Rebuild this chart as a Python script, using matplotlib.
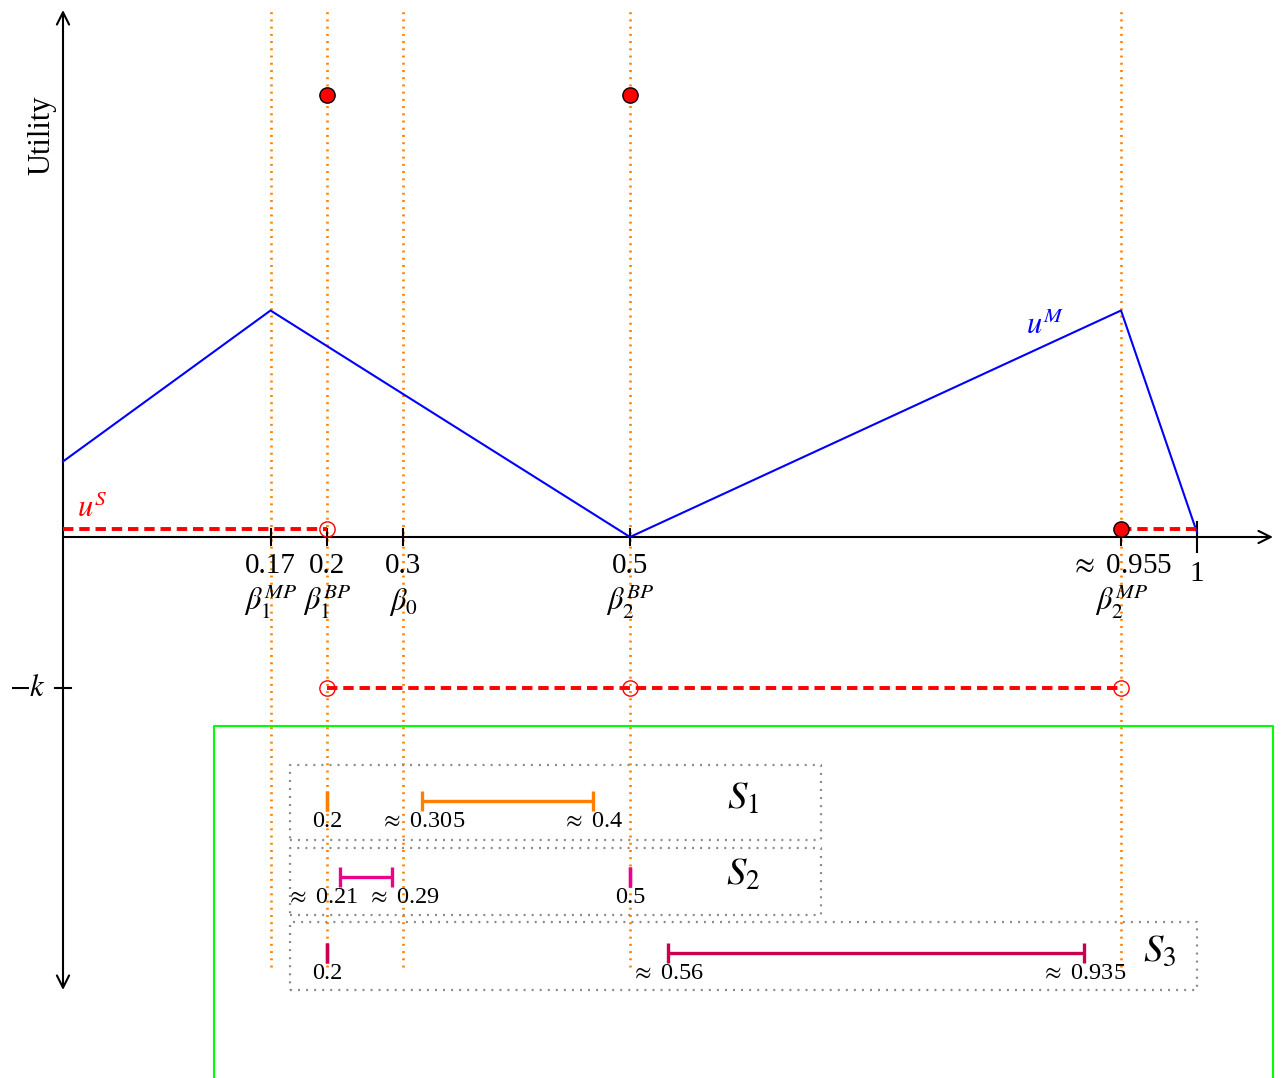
import matplotlib.pyplot as plt

plt.rcParams['font.family'] = 'serif'
plt.rcParams['font.serif'] = ['Liberation Serif', 'DejaVu Serif']
plt.rcParams['mathtext.fontset'] = 'stix'
plt.rcParams['lines.scale_dashes'] = False

# schematic positions on the belief axis (drawing is not to scale)
beta_pos = [0.183, 0.233, 0.300, 0.500, 0.933, 1.0]
tick_text = ['0.17', '0.2', '0.3', '0.5', r'$\approx$ 0.955', '1']
beta_text = [r'$\beta_1^{MP}$', r'$\beta_1^{BP}$', r'$\beta_0$', r'$\beta_2^{BP}$', r'$\beta_2^{MP}$', '']

# utility curves
uM_x = [0.0, 0.183, 0.500, 0.933, 1.0]
uM_y = [0.50, 1.50, 0.0, 1.50, 0.03]
uS = 0.05
k = 1.0
top = 2.93

# sets S1..S3: single points and intervals (schematic positions + labels)
set_names = [r'$S_1$', r'$S_2$', r'$S_3$']
set_points = [[0.233], [0.500], [0.233]]
point_labels = [['0.2'], ['0.5'], ['0.2']]
set_ranges = [(0.317, 0.467), (0.244, 0.290), (0.5335, 0.900)]
range_labels = [(r'$\approx$ 0.305', r'$\approx$ 0.4'),
                (r'$\approx$ 0.21', r'$\approx$ 0.29'),
                (r'$\approx$ 0.56', r'$\approx$ 0.935')]
label_shift = [(0, 0), (-0.015, 0.010), (0, 0)]
set_colors = ['#ff8000', '#ec008c', '#c8004e']
row_y = [-1.748, -2.252, -2.755]
box_y = [(-2.007, -1.510), (-2.503, -2.060), (-3.0, -2.550)]
box_right = [0.668, 0.668, 1.0]
name_x = [0.600, 0.600, 0.967]

orange = '#ff8000'
red = '#ff0000'

fig = plt.figure(figsize=(12.82, 10.78), dpi=100)
ax = fig.add_axes([0, 0, 1, 1])
ax.axis('off')
ax.set_xlim(-63 / 1134, (1282 - 63) / 1134)
ax.set_ylim((537 - 1078) / 151, 537 / 151)

# axes with arrows
ax.annotate('', xy=(1.067, 0), xytext=(0, 0),
            arrowprops=dict(arrowstyle='->', lw=1.5, color='black', mutation_scale=22, shrinkA=0, shrinkB=0))
ax.annotate('', xy=(0, 3.49), xytext=(0, -3.0),
            arrowprops=dict(arrowstyle='<->', lw=1.5, color='black', mutation_scale=22, shrinkA=0, shrinkB=0))
ax.text(-0.0185, 2.66, 'Utility', rotation=90, ha='center', va='center', fontsize=22)
ax.plot([-0.007, 0.007], [-k, -k], color='black', lw=1.5)
ax.text(-0.031, -k, r'$-k$', ha='center', va='center', fontsize=22)

# orange guide lines
ax.vlines(beta_pos[:5], -2.848, 3.503, colors=orange, linestyles=(0, (1.4, 3.8)), lw=1.9, zorder=1)

# x ticks and labels
for i, b in enumerate(beta_pos):
    h = 0.1 if i == 5 else 0.053
    ax.plot([b, b], [-h, h], color='black', lw=1.5, zorder=3)
    ty = -0.245 if i == 5 else -0.195
    ax.text(b, ty, tick_text[i], ha='center', va='center', fontsize=21)
    ax.text(b, -0.43, beta_text[i], ha='center', va='center', fontsize=22)

# utility of the manipulator
ax.plot(uM_x, uM_y, color='#0000ff', lw=1.5, zorder=4)
ax.text(0.866, 1.40, r'$u^M$', color='#0000ff', ha='center', va='center', fontsize=22)

# utility of the sender (dashed red)
dash = (0, (7.5, 4.2))
ax.plot([0, beta_pos[1]], [uS, uS], color=red, lw=2.8, linestyle=dash, zorder=4)
ax.plot([beta_pos[4], beta_pos[5]], [uS, uS], color=red, lw=2.8, linestyle=dash, zorder=4)
ax.plot([beta_pos[1], beta_pos[4]], [-k, -k], color=red, lw=2.8, linestyle=dash, zorder=4)
ax.text(0.0256, 0.185, r'$u^S$', color=red, ha='center', va='center', fontsize=22)

ax.plot([beta_pos[1], beta_pos[3]], [top, top], 'o', color=red, mec='black', mew=1, ms=11, zorder=5)
ax.plot([beta_pos[4]], [uS], 'o', color=red, mec='black', mew=1, ms=11, zorder=5)
ax.plot([beta_pos[1]], [uS], 'o', mfc='none', mec=red, mew=1, ms=11, zorder=5)
ax.plot([beta_pos[1], beta_pos[3], beta_pos[4]], [-k, -k, -k], 'o', mfc='none', mec=red, mew=1, ms=11, zorder=5)

# green frame
ax.plot([0.1332, 0.1332, 1.067, 1.067], [-3.7, -1.252, -1.252, -3.7], color='#00ff00', lw=1.5)

# the three sets
for i in range(3):
    y0, y1 = box_y[i]
    ax.plot([0.2002, box_right[i], box_right[i], 0.2002, 0.2002], [y0, y0, y1, y1, y0],
            color='#888888', lw=1.6, linestyle=(0, (1.4, 4.4)), zorder=2)
    c = set_colors[i]
    for p, lab in zip(set_points[i], point_labels[i]):
        ax.errorbar(p, row_y[i], xerr=0, fmt='none', ecolor=c, capsize=7, capthick=2.4, elinewidth=2.4, zorder=4)
        ax.text(p, row_y[i] - 0.135, lab, ha='center', va='center', fontsize=17.5)
    lo, hi = set_ranges[i]
    ax.errorbar((lo + hi) / 2, row_y[i], xerr=(hi - lo) / 2, fmt='none', ecolor=c,
                capsize=7, capthick=2.4, elinewidth=2.4, zorder=4)
    ax.text(lo + label_shift[i][0], row_y[i] - 0.135, range_labels[i][0], ha='center', va='center', fontsize=17.5)
    ax.text(hi + label_shift[i][1], row_y[i] - 0.135, range_labels[i][1], ha='center', va='center', fontsize=17.5)
    ax.text(name_x[i], row_y[i] + 0.01, set_names[i], ha='center', va='center', fontsize=28)

fig.savefig('out.png', dpi=100)
